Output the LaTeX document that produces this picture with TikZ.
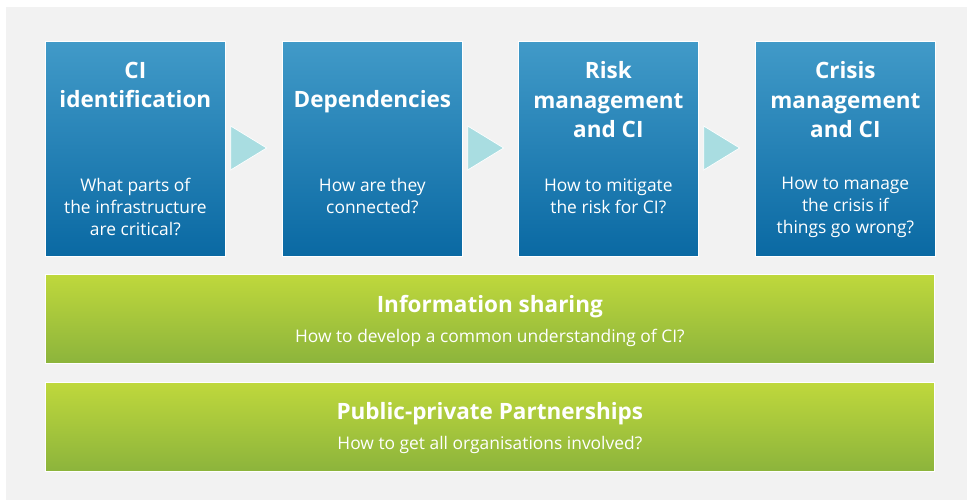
\documentclass[tikz,border=0pt]{standalone}
\usepackage{fontspec}
\setmainfont{Open Sans}
\usetikzlibrary{shapes.geometric}
\definecolor{stagetop}{HTML}{419AC8}
\definecolor{stagebot}{HTML}{0A69A3}
\definecolor{bandtop}{HTML}{BFD83C}
\definecolor{bandbot}{HTML}{8CB43C}
\definecolor{pagegrey}{HTML}{F2F2F2}
\definecolor{stepcyan}{HTML}{A9DDE1}
\tikzset{
  stage/.style={draw=white, line width=0.7pt, top color=stagetop, bottom color=stagebot,
    minimum width=180pt, minimum height=215pt, inner sep=0pt, anchor=north west},
  band/.style={draw=white, line width=0.7pt, top color=bandtop, bottom color=bandbot,
    minimum width=889pt, minimum height=89pt, inner sep=0pt, anchor=north west},
  head/.style={text=white, font=\bfseries\fontsize{22.5}{29.5}\selectfont, align=center, inner sep=0pt},
  ask/.style={text=white, font=\fontsize{17.4}{22}\selectfont, align=center, inner sep=0pt},
  chevron/.style={isosceles triangle, isosceles triangle stretches, fill=stepcyan, draw=white,
    line width=0.7pt, inner sep=0pt, minimum width=44pt, minimum height=36pt}
}
\begin{document}
\begin{tikzpicture}[x=1pt,y=-1pt]
\newcommand{\topy}{41}
\newcommand{\hy}{59pt}
\newcommand{\qy}{155pt}
\useasboundingbox (0,0) rectangle (967,500);
\fill[pagegrey] (6,7) rectangle (967,500);

% the four stages
\node[stage] (s1) at (45,\topy) {};
\node[stage] (s2) at (282,\topy) {};
\node[stage] (s3) at (518,\topy) {};
\node[stage] (s4) at (755,\topy) {};

\node[head] (h1) at ([yshift=-44pt]s1.north) {CI\\identification};
\node[head] (h2) at ([yshift=-61pt]s2.north) {Dependencies};
\node[head] (h3) at ([yshift=-\hy]s3.north) {Risk\\management\\and CI};
\node[head] (h4) at ([yshift=-\hy]s4.north) {Crisis\\management\\and CI};

\node[ask] (q1) at ([yshift=-166pt]s1.north) {What parts of\\the infrastructure\\are critical?};
\node[ask] (q2) at ([yshift=-\qy]s2.north) {How are they\\connected?};
\node[ask] (q3) at ([yshift=-\qy]s3.north) {How to mitigate\\the risk for CI?};
\node[ask] (q4) at ([yshift=-166pt]s4.north) {How to manage\\the crisis if\\things go wrong?};

% steps between stages
\node[chevron] (c1) at (243,148) {};
\node[chevron] (c2) at (480,148) {};
\node[chevron] (c3) at (716,148) {};

% the two bands underneath
\node[band] (b1) at (45,274) {};
\node[band] (b2) at (45,382) {};
\node[head] (bh1) at ([yshift=-33pt]b1.north) {Information sharing};
\node[ask] (bq1) at ([yshift=-64pt]b1.north) {How to develop a common understanding of CI?};
\node[head] (bh2) at ([yshift=-32pt]b2.north) {Public-private Partnerships};
\node[ask] (bq2) at ([yshift=-63pt]b2.north) {How to get all organisations involved?};
\end{tikzpicture}
\end{document}
